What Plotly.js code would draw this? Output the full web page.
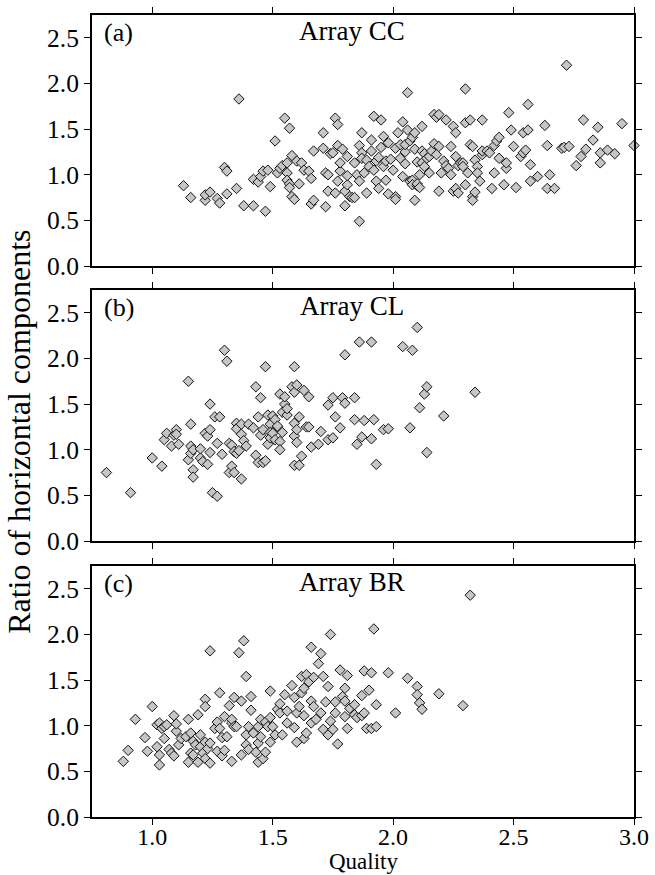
<!DOCTYPE html>
<html>
<head>
<meta charset="utf-8">
<script src="https://cdn.plot.ly/plotly-3.0.1.min.js"></script>
<style>html,body{margin:0;padding:0;background:#fff;}#chart{width:655px;height:875px;}</style>
</head>
<body>
<div id="chart"></div>
<script>
// Panel (a) Array CC
const qualityCC = [1.13,1.16,1.22,1.22,1.24,1.27,1.28,1.30,1.31,1.31,1.35,1.36,1.38,1.42,1.42,1.44,1.45,1.46,1.47,1.48,1.49,1.51,1.52,1.53,1.54,1.55,1.56,1.56,1.56,1.57,1.57,1.57,1.58,1.58,1.59,1.60,1.61,1.62,1.63,1.65,1.66,1.66,1.67,1.67,1.71,1.71,1.72,1.72,1.73,1.73,1.74,1.75,1.76,1.76,1.77,1.77,1.77,1.78,1.78,1.79,1.80,1.80,1.81,1.81,1.81,1.82,1.83,1.84,1.84,1.85,1.86,1.86,1.86,1.87,1.87,1.87,1.88,1.89,1.89,1.90,1.91,1.91,1.92,1.92,1.93,1.93,1.94,1.94,1.95,1.95,1.96,1.96,1.97,1.97,1.98,1.98,1.99,2.00,2.01,2.01,2.01,2.02,2.03,2.03,2.04,2.04,2.05,2.05,2.05,2.06,2.06,2.07,2.07,2.08,2.08,2.08,2.09,2.09,2.09,2.10,2.10,2.10,2.11,2.11,2.12,2.12,2.12,2.13,2.13,2.14,2.15,2.15,2.16,2.17,2.17,2.18,2.18,2.19,2.19,2.19,2.20,2.21,2.22,2.22,2.23,2.24,2.24,2.25,2.25,2.26,2.26,2.26,2.27,2.27,2.28,2.29,2.29,2.30,2.30,2.30,2.31,2.32,2.32,2.33,2.33,2.33,2.34,2.34,2.35,2.35,2.36,2.37,2.37,2.37,2.39,2.40,2.41,2.42,2.42,2.43,2.44,2.44,2.46,2.47,2.47,2.48,2.49,2.50,2.51,2.53,2.54,2.54,2.55,2.56,2.56,2.57,2.57,2.60,2.63,2.64,2.65,2.64,2.67,2.70,2.71,2.72,2.73,2.76,2.78,2.79,2.80,2.83,2.85,2.86,2.86,2.89,2.92,2.95,3.00];
const ratioCC   = [0.88,0.75,0.72,0.78,0.81,0.74,0.69,1.08,1.04,0.79,0.85,1.83,0.66,0.66,0.95,0.92,0.98,1.04,0.60,1.05,0.87,1.37,1.02,1.07,1.10,1.62,1.02,1.13,0.94,0.90,1.51,0.86,0.76,1.21,0.73,1.15,0.90,1.13,1.05,1.04,0.96,0.68,0.72,1.26,1.46,1.29,0.65,1.02,1.00,0.82,1.23,1.24,1.62,0.80,1.55,1.32,0.93,1.04,1.13,1.28,0.82,0.66,0.89,1.20,0.99,0.76,0.75,1.13,0.75,1.00,1.32,0.93,0.49,1.46,1.24,1.18,1.02,0.80,1.16,1.09,1.26,1.38,1.64,1.05,0.93,1.15,1.19,0.85,1.60,1.30,1.09,1.42,1.15,0.94,0.79,1.35,1.17,1.05,1.29,0.76,0.73,1.46,1.18,1.33,1.58,0.98,1.12,1.25,1.33,1.49,1.90,1.37,0.93,0.94,0.89,1.41,1.46,0.72,1.28,1.14,0.88,0.90,0.86,1.00,1.13,1.53,1.26,1.23,1.09,1.18,1.20,1.02,1.26,1.66,1.34,1.22,1.63,0.82,1.66,1.31,1.02,1.15,1.60,1.10,1.07,1.31,1.00,1.53,0.82,1.46,1.20,0.85,1.10,0.80,1.13,1.13,1.09,1.57,1.94,0.89,1.02,1.60,1.33,1.31,0.76,0.72,1.16,0.81,1.09,1.02,0.93,1.22,1.60,1.26,1.26,1.24,0.85,1.02,1.32,1.37,1.41,1.18,0.89,1.07,1.13,1.68,1.49,1.31,0.86,1.20,1.46,1.24,1.27,1.77,1.49,1.11,0.93,0.98,1.54,1.32,1.00,0.85,0.85,1.29,1.30,2.20,1.31,1.10,1.20,1.60,1.28,1.38,1.52,1.13,1.24,1.27,1.23,1.56,1.32];

// Panel (b) Array CL
const qualityCL = [0.81,0.91,1.00,1.04,1.05,1.06,1.08,1.09,1.10,1.10,1.11,1.15,1.16,1.15,1.16,1.16,1.17,1.17,1.17,1.20,1.20,1.21,1.22,1.23,1.23,1.24,1.24,1.24,1.25,1.27,1.27,1.26,1.28,1.29,1.30,1.31,1.32,1.32,1.33,1.33,1.34,1.34,1.35,1.35,1.35,1.36,1.37,1.37,1.37,1.38,1.39,1.40,1.42,1.43,1.43,1.44,1.44,1.45,1.45,1.46,1.46,1.47,1.47,1.48,1.48,1.49,1.49,1.49,1.50,1.50,1.51,1.51,1.52,1.52,1.53,1.53,1.54,1.53,1.54,1.55,1.55,1.56,1.56,1.58,1.59,1.59,1.59,1.59,1.59,1.60,1.60,1.61,1.60,1.61,1.62,1.63,1.64,1.65,1.65,1.66,1.69,1.70,1.73,1.73,1.75,1.75,1.76,1.78,1.79,1.80,1.80,1.84,1.84,1.85,1.86,1.87,1.88,1.91,1.91,1.92,1.93,1.96,1.98,2.04,2.07,2.08,2.10,2.11,2.13,2.14,2.14,2.21,2.34];
const ratioCL   = [0.75,0.53,0.91,0.82,1.11,1.18,1.04,1.16,1.22,1.17,1.06,1.75,1.28,0.89,1.04,0.96,1.00,0.78,0.70,0.91,1.01,0.87,1.18,0.84,1.15,1.22,1.50,0.97,0.53,0.49,1.07,1.36,1.36,0.95,2.09,1.97,0.75,1.07,0.82,1.05,0.75,0.98,1.29,1.23,0.96,0.99,1.28,0.68,1.17,1.10,1.04,1.28,1.24,0.94,1.69,0.86,1.36,1.16,1.57,1.22,0.86,1.91,0.88,1.06,1.38,1.28,1.19,1.13,1.37,1.18,1.33,1.11,1.25,1.26,1.09,1.00,1.19,1.61,1.41,1.50,1.58,1.38,1.45,1.69,1.91,0.83,1.63,1.29,1.15,1.08,1.71,1.36,1.22,0.83,0.93,1.65,1.25,1.25,1.58,1.03,1.06,1.20,1.11,1.49,1.57,1.13,1.36,1.24,1.57,1.51,2.04,1.57,1.33,1.06,2.18,1.14,1.32,2.18,1.12,1.33,0.84,1.22,1.23,2.13,1.24,2.09,2.34,1.46,1.61,1.69,0.97,1.37,1.63];

// Panel (c) Array BR
const qualityBR = [0.88,0.90,0.93,0.97,0.98,1.00,1.02,1.02,1.03,1.03,1.03,1.04,1.05,1.05,1.06,1.07,1.08,1.09,1.09,1.10,1.10,1.11,1.12,1.14,1.15,1.15,1.16,1.16,1.17,1.17,1.18,1.19,1.19,1.20,1.20,1.21,1.22,1.22,1.22,1.22,1.23,1.24,1.24,1.24,1.26,1.27,1.27,1.28,1.28,1.29,1.29,1.30,1.30,1.31,1.32,1.33,1.33,1.33,1.34,1.34,1.35,1.36,1.37,1.37,1.38,1.39,1.39,1.39,1.40,1.40,1.41,1.41,1.42,1.43,1.44,1.44,1.44,1.45,1.45,1.46,1.47,1.47,1.48,1.49,1.49,1.49,1.50,1.51,1.52,1.53,1.53,1.54,1.55,1.56,1.56,1.58,1.59,1.59,1.60,1.60,1.61,1.62,1.62,1.63,1.63,1.63,1.64,1.64,1.65,1.66,1.66,1.66,1.67,1.67,1.68,1.69,1.70,1.70,1.71,1.71,1.72,1.73,1.73,1.74,1.74,1.75,1.76,1.76,1.77,1.78,1.79,1.80,1.80,1.80,1.81,1.81,1.82,1.84,1.84,1.85,1.87,1.87,1.88,1.88,1.89,1.90,1.91,1.91,1.92,1.93,1.93,1.98,2.01,2.06,2.10,2.10,2.11,2.12,2.19,2.29,2.32];
const ratioBR   = [0.61,0.73,1.07,0.87,0.72,1.21,0.77,1.01,0.68,0.57,1.03,0.97,0.99,0.86,1.01,0.74,0.70,1.11,0.67,0.94,1.02,0.79,0.86,0.88,1.07,0.60,0.70,0.92,0.83,0.68,0.79,0.60,1.12,0.77,0.90,0.70,1.29,1.21,0.82,0.64,0.75,0.59,1.82,0.81,0.97,1.04,0.72,1.36,0.97,0.87,0.67,0.73,1.10,0.88,1.22,0.61,1.03,1.07,1.31,0.99,0.99,1.80,1.27,0.68,1.93,0.90,1.54,0.79,0.99,0.74,1.32,1.17,0.92,0.71,0.81,0.60,0.99,1.07,0.88,0.64,0.71,1.04,0.99,1.09,1.38,0.82,0.99,0.90,1.18,1.14,1.24,0.90,1.34,1.03,1.16,1.44,0.98,1.31,0.82,1.14,1.21,1.36,1.54,0.86,1.41,1.11,0.92,1.56,1.48,1.03,1.27,1.86,1.21,1.53,1.07,1.68,1.14,1.79,0.96,1.54,1.26,1.43,0.90,1.05,2.00,0.96,1.14,1.26,0.80,1.61,1.32,1.41,1.27,1.10,0.97,1.55,1.19,1.23,1.12,1.09,1.11,1.33,1.60,1.14,0.97,1.39,1.58,0.97,2.06,1.23,0.99,1.58,1.14,1.52,1.43,1.34,1.25,1.18,1.35,1.22,2.43];

const panelLabels = ['(a)', '(b)', '(c)'];
const arrayNames = ['Array CC', 'Array CL', 'Array BR'];
const xTickVals = [1.0, 1.5, 2.0, 2.5, 3.0];
const xTickText = ['1.0', '1.5', '2.0', '2.5', '3.0'];
const yTickVals = [0.0, 0.5, 1.0, 1.5, 2.0, 2.5];
const yTickText = ['0.0', '0.5', '1.0', '1.5', '2.0', '2.5'];
const yTitle = 'Ratio of horizontal components';
const xTitle = 'Quality';

const FONT = '"Liberation Serif", "Times New Roman", serif';
const marker = {symbol: 'diamond', size: 8, color: '#c6c6c6', line: {color: '#111', width: 1}};

const xs = [qualityCC, qualityCL, qualityBR];
const ys = [ratioCC, ratioCL, ratioBR];
const traces = xs.map((x, i) => ({
  type: 'scatter', mode: 'markers', x: x, y: ys[i],
  xaxis: i === 0 ? 'x' : 'x' + (i + 1), yaxis: i === 0 ? 'y' : 'y' + (i + 1),
  marker: marker, hoverinfo: 'skip', showlegend: false, cliponaxis: false
}));

const domains = [[0.687, 1.0], [0.3441, 0.6571], [0.0, 0.313]];
const layout = {
  width: 655, height: 875,
  margin: {l: 92, r: 21, t: 15, b: 58},
  paper_bgcolor: '#fff', plot_bgcolor: '#fff',
  font: {family: FONT, size: 25, color: '#000'},
  showlegend: false,
  annotations: []
};
const axBase = {
  showgrid: false, zeroline: false, showline: true, linecolor: '#000', linewidth: 2,
  mirror: 'ticks', ticks: 'outside', ticklen: 6, tickwidth: 1, tickcolor: '#000',
  tickfont: {family: FONT, size: 25.5, color: '#000'}, tickmode: 'array'
};
for (let i = 0; i < 3; i++) {
  const sfx = i === 0 ? '' : String(i + 1);
  const xa = Object.assign({}, axBase, {
    domain: [0, 1], range: [0.75, 3.0], tickvals: xTickVals, ticktext: xTickText,
    anchor: 'y' + sfx, showticklabels: i === 2
  });
  if (i > 0) xa.matches = 'x';
  if (i === 2) {
    xa.ticklabelstandoff = -9;
    xa.tickfont = {family: FONT, size: 24, color: '#000'};
  }
  const ya = Object.assign({}, axBase, {
    domain: domains[i], range: [0, 2.75], tickvals: yTickVals, ticktext: yTickText,
    anchor: 'x' + sfx
  });
  layout['xaxis' + sfx] = xa;
  layout['yaxis' + sfx] = ya;
  layout.annotations.push({
    xref: 'x' + sfx, yref: 'y' + sfx, x: 0.79, y: 2.56, xanchor: 'left', yanchor: 'middle',
    text: panelLabels[i], showarrow: false, font: {family: FONT, size: 26, color: '#000'}
  });
  layout.annotations.push({
    xref: 'x' + sfx, yref: 'y' + sfx, x: 1.83, y: 2.57, xanchor: 'center', yanchor: 'middle',
    text: arrayNames[i], showarrow: false, font: {family: FONT, size: 27, color: '#000'}
  });
}
layout.annotations.push({
  xref: 'paper', yref: 'paper', x: 0.5, y: -0.0561, xanchor: 'center', yanchor: 'middle',
  text: xTitle, showarrow: false, font: {family: FONT, size: 23, color: '#000'}
});
layout.annotations.push({
  xref: 'paper', yref: 'paper', x: -0.135, y: 0.48, xanchor: 'center', yanchor: 'middle',
  text: yTitle, textangle: -90, showarrow: false, font: {family: FONT, size: 32, color: '#000'}
});

Plotly.newPlot('chart', traces, layout, {staticPlot: true, displayModeBar: false});
</script>
</body>
</html>
